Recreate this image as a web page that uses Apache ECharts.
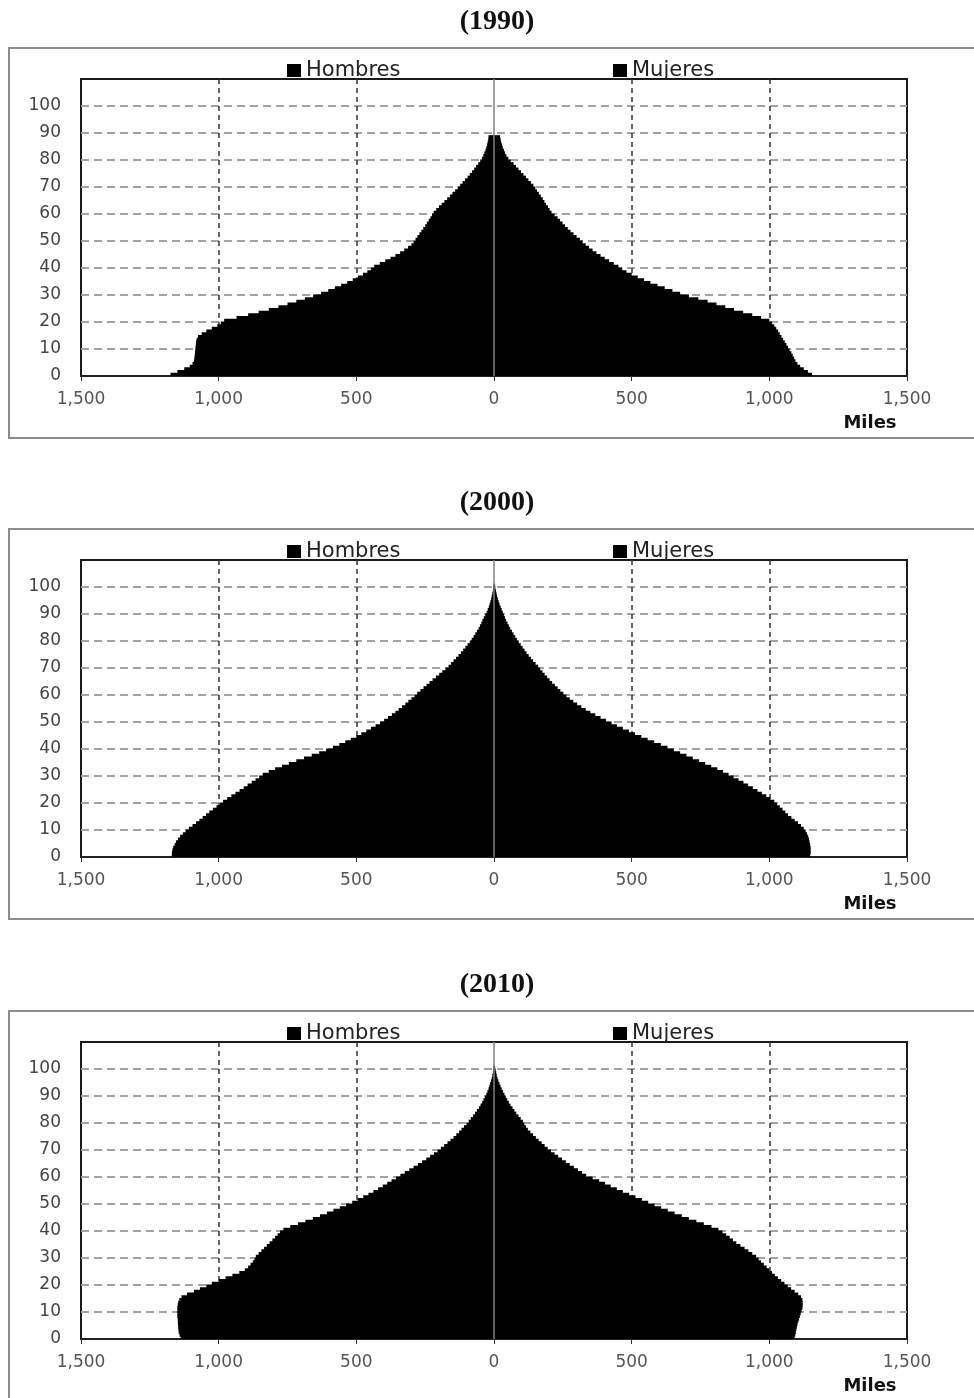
<!DOCTYPE html>
<html>
<head>
<meta charset="utf-8">
<script src="https://cdn.jsdelivr.net/npm/echarts@6/dist/echarts.min.js"></script>
<style>
  html, body { margin: 0; padding: 0; background: #fff; }
  #main { width: 974px; height: 1398px; }
</style>
</head>
<body>
<div id="main"></div>
<script>
(function () {
    'use strict';

    // 年份标题
    var years = ['(1990)', '(2000)', '(2010)'];
    var legendNames = ['Hombres', 'Mujeres'];

    // 每岁人口（千人），0 - 100 岁
    var hombres1990 = [
        1175, 1150, 1125, 1105, 1095, 1090, 1088, 1087, 1086, 1085,
        1084, 1083, 1082, 1080, 1075, 1062, 1045, 1025, 1005, 992,
        980, 935, 893, 855, 818, 783, 750, 718, 687, 657,
        628, 602, 578, 555, 533, 513, 494, 476, 460, 447,
        435, 415, 395, 376, 358, 341, 326, 312, 300, 292,
        285, 278, 271, 264, 257, 250, 244, 237, 231, 225,
        219, 210, 200, 190, 180, 170, 160, 151, 141, 132,
        123, 114, 105, 96, 88, 80, 72, 65, 57, 50,
        44, 39, 35, 31, 28, 25, 23, 21, 20, 0,
        0, 0, 0, 0, 0, 0, 0, 0, 0, 0,
        0
    ];
    var mujeres1990 = [
        1155, 1140, 1125, 1112, 1102, 1095, 1090, 1085, 1080, 1074,
        1068, 1062, 1056, 1050, 1044, 1038, 1032, 1025, 1018, 1010,
        1000, 970, 938, 905, 872, 840, 808, 776, 742, 708,
        676, 648, 620, 594, 568, 545, 522, 500, 481, 466,
        452, 435, 418, 402, 387, 372, 358, 345, 333, 322,
        312, 300, 289, 278, 268, 258, 249, 240, 231, 220,
        209, 202, 196, 189, 183, 177, 170, 163, 156, 150,
        143, 134, 125, 116, 107, 98, 89, 80, 71, 61,
        52, 45, 40, 36, 32, 29, 26, 24, 22, 0,
        0, 0, 0, 0, 0, 0, 0, 0, 0, 0,
        0
    ];
    var hombres2000 = [
        1170, 1170, 1168, 1165, 1160, 1155, 1148, 1140, 1130, 1120,
        1108, 1095, 1082, 1070, 1058, 1046, 1034, 1021, 1008, 996,
        984, 969, 954, 939, 924, 909, 895, 880, 866, 853,
        840, 818, 795, 770, 745, 718, 690, 662, 635, 610,
        585, 562, 540, 520, 500, 482, 464, 447, 430, 414,
        399, 385, 371, 358, 346, 334, 322, 311, 300, 289,
        279, 267, 256, 245, 234, 223, 211, 199, 188, 176,
        165, 156, 147, 138, 129, 120, 112, 104, 96, 88,
        81, 74, 68, 62, 56, 51, 46, 42, 37, 32,
        27, 23, 19, 16, 13, 10, 8, 6, 4, 3,
        2
    ];
    var mujeres2000 = [
        1148, 1150, 1150, 1150, 1148, 1146, 1144, 1141, 1137, 1132,
        1125, 1115, 1104, 1092, 1080, 1068, 1058, 1048, 1038, 1028,
        1018, 1004, 989, 973, 957, 940, 923, 906, 888, 870,
        852, 832, 811, 789, 767, 745, 722, 699, 676, 653,
        630, 606, 582, 558, 535, 512, 490, 468, 447, 427,
        407, 387, 368, 350, 333, 317, 302, 288, 275, 263,
        252, 241, 231, 221, 211, 202, 193, 184, 176, 168,
        160, 151, 142, 134, 126, 118, 111, 104, 97, 90,
        83, 77, 71, 65, 59, 54, 49, 44, 40, 36,
        32, 28, 24, 20, 17, 14, 11, 9, 7, 5,
        4
    ];
    var hombres2010 = [
        1138, 1142, 1145, 1146, 1147, 1148, 1148, 1149, 1150, 1150,
        1150, 1150, 1149, 1147, 1143, 1135, 1115, 1090, 1068, 1045,
        1025, 1000, 975, 950, 925, 905, 893, 884, 876, 870,
        865, 855, 845, 835, 825, 815, 805, 795, 786, 777,
        765, 740, 712, 685, 658, 632, 607, 583, 560, 537,
        515, 495, 475, 456, 438, 421, 404, 388, 372, 356,
        340, 324, 308, 292, 276, 261, 246, 232, 218, 205,
        193, 181, 169, 158, 147, 137, 127, 118, 109, 100,
        92, 84, 76, 69, 62, 55, 49, 43, 38, 33,
        28, 24, 20, 17, 14, 11, 8, 6, 4, 3,
        2
    ];
    var mujeres2010 = [
        1092, 1094, 1096, 1098, 1100, 1102, 1105, 1108, 1111, 1114,
        1117, 1120, 1121, 1121, 1120, 1115, 1105, 1092, 1079, 1067,
        1055, 1043, 1031, 1020, 1010, 1000, 990, 980, 970, 961,
        952, 938, 924, 910, 895, 880, 868, 856, 843, 830,
        815, 790, 762, 735, 708, 682, 656, 631, 607, 583,
        560, 537, 514, 491, 468, 446, 424, 403, 382, 358,
        335, 320, 305, 290, 275, 261, 247, 233, 220, 207,
        195, 184, 173, 162, 152, 142, 132, 123, 116, 110,
        105, 97, 89, 81, 74, 67, 60, 54, 48, 43,
        38, 33, 28, 24, 20, 16, 13, 10, 8, 6,
        4
    ];

    var hombres = [hombres1990, hombres2000, hombres2010];
    var mujeres = [mujeres1990, mujeres2000, mujeres2010];

    // 年龄类别（每岁一格，到 110 为止）
    var ages = [];
    for (var a = 0; a < 110; a++) { ages.push(String(a)); }

    // 坐标轴刻度
    var xMin = -1500, xMax = 1500, xStep = 500;
    var yMin = 0, yMax = 110, yStep = 10;

    //---------------------------------------------------------------------
    var myChart = echarts.init(document.getElementById('main'));

    var offsets = [0, 481, 963];
    var grids = [], xAxes = [], yAxes = [], series = [], legends = [], graphics = [];

    // 横向虚线：0 和 110 处留给边框
    var hLineColors = ['transparent'];
    for (var k = 0; k < 10; k++) { hLineColors.push('#a3a3a3'); }
    hLineColors.push('transparent');

    offsets.forEach(function (off, i) {
        grids.push({
            left: 81, width: 826, top: 79 + off, height: 297,
            show: true, borderColor: '#1a1a1a', borderWidth: 2
        });

        xAxes.push({
            type: 'value', gridIndex: i, min: xMin, max: xMax, interval: xStep,
            axisLine: { show: true, onZero: false, lineStyle: { color: '#222', width: 2 } },
            axisTick: { show: true, length: 5, lineStyle: { color: '#333' } },
            axisLabel: {
                margin: 15, fontSize: 17, color: '#555', fontFamily: 'DejaVu Sans',
                formatter: function (v) { return Math.abs(v).toLocaleString('en-US'); }
            },
            splitLine: {
                show: true,
                lineStyle: {
                    type: [5, 4], width: 1.5,
                    color: ['transparent', '#333', '#333', 'transparent', '#333', '#333', 'transparent']
                }
            }
        });

        // 数值轴：只负责刻度标签和横向虚线
        yAxes.push({
            type: 'value', gridIndex: i, min: yMin, max: yMax, interval: yStep, position: 'left',
            axisLine: { show: false }, axisTick: { show: false },
            axisLabel: {
                margin: 20, fontSize: 17, color: '#444', fontFamily: 'DejaVu Sans',
                formatter: function (v) { return v > 100 ? '' : String(v); }
            },
            splitLine: { show: true, lineStyle: { type: [8, 5], width: 2, color: hLineColors } }
        });
        // 类目轴：给条形定位
        yAxes.push({
            type: 'category', gridIndex: i, data: ages, show: false, boundaryGap: true
        });

        // 条形略宽于一格，避免相邻条之间出现白缝
        series.push({
            name: 'Hombres', type: 'bar', xAxisIndex: i, yAxisIndex: 2 * i + 1,
            stack: 'p' + i, barWidth: 3.8, silent: true, z: 2,
            itemStyle: { color: '#000' },
            data: hombres[i].map(function (v) { return -v; })
        });
        series.push({
            name: 'Mujeres', type: 'bar', xAxisIndex: i, yAxisIndex: 2 * i + 1,
            stack: 'p' + i, barWidth: 3.8, silent: true, z: 3,
            itemStyle: { color: '#000' },
            data: mujeres[i],
            markLine: {
                silent: true, symbol: 'none', label: { show: false },
                lineStyle: { color: '#808080', width: 1.5, type: 'solid' },
                data: [{ xAxis: 0 }]
            }
        });

        legends.push({
            data: [legendNames[0]], left: 287, top: 60 + off, padding: 0,
            icon: 'rect', itemWidth: 14, itemHeight: 13, selectedMode: false,
            textStyle: { fontSize: 21, color: '#222', fontFamily: 'DejaVu Sans' }
        });
        legends.push({
            data: [legendNames[1]], left: 613, top: 60 + off, padding: 0,
            icon: 'rect', itemWidth: 14, itemHeight: 13, selectedMode: false,
            textStyle: { fontSize: 21, color: '#222', fontFamily: 'DejaVu Sans' }
        });

        // 外框、标题、单位
        graphics.push({
            type: 'rect', z: -10,
            shape: { x: 9, y: 48 + off, width: 990, height: 390 },
            style: { fill: 'none', stroke: '#8c8c8c', lineWidth: 2 }
        });
        graphics.push({
            type: 'text', x: 497, y: 22 + off,
            style: {
                text: years[i], font: 'bold 28px "Liberation Serif"', fill: '#111',
                align: 'center', verticalAlign: 'middle', textAlign: 'center', textVerticalAlign: 'middle'
            }
        });
        graphics.push({
            type: 'text', x: 870, y: 423 + off,
            style: {
                text: 'Miles', font: 'bold 18px "DejaVu Sans"', fill: '#111',
                align: 'center', verticalAlign: 'middle', textAlign: 'center', textVerticalAlign: 'middle'
            }
        });
    });

    var option = {
        animation: false,
        backgroundColor: '#fff',
        color: ['#000', '#000'],
        grid: grids,
        xAxis: xAxes,
        yAxis: yAxes,
        legend: legends,
        graphic: graphics,
        series: series
    };

    myChart.setOption(option);
}());
</script>
</body>
</html>
